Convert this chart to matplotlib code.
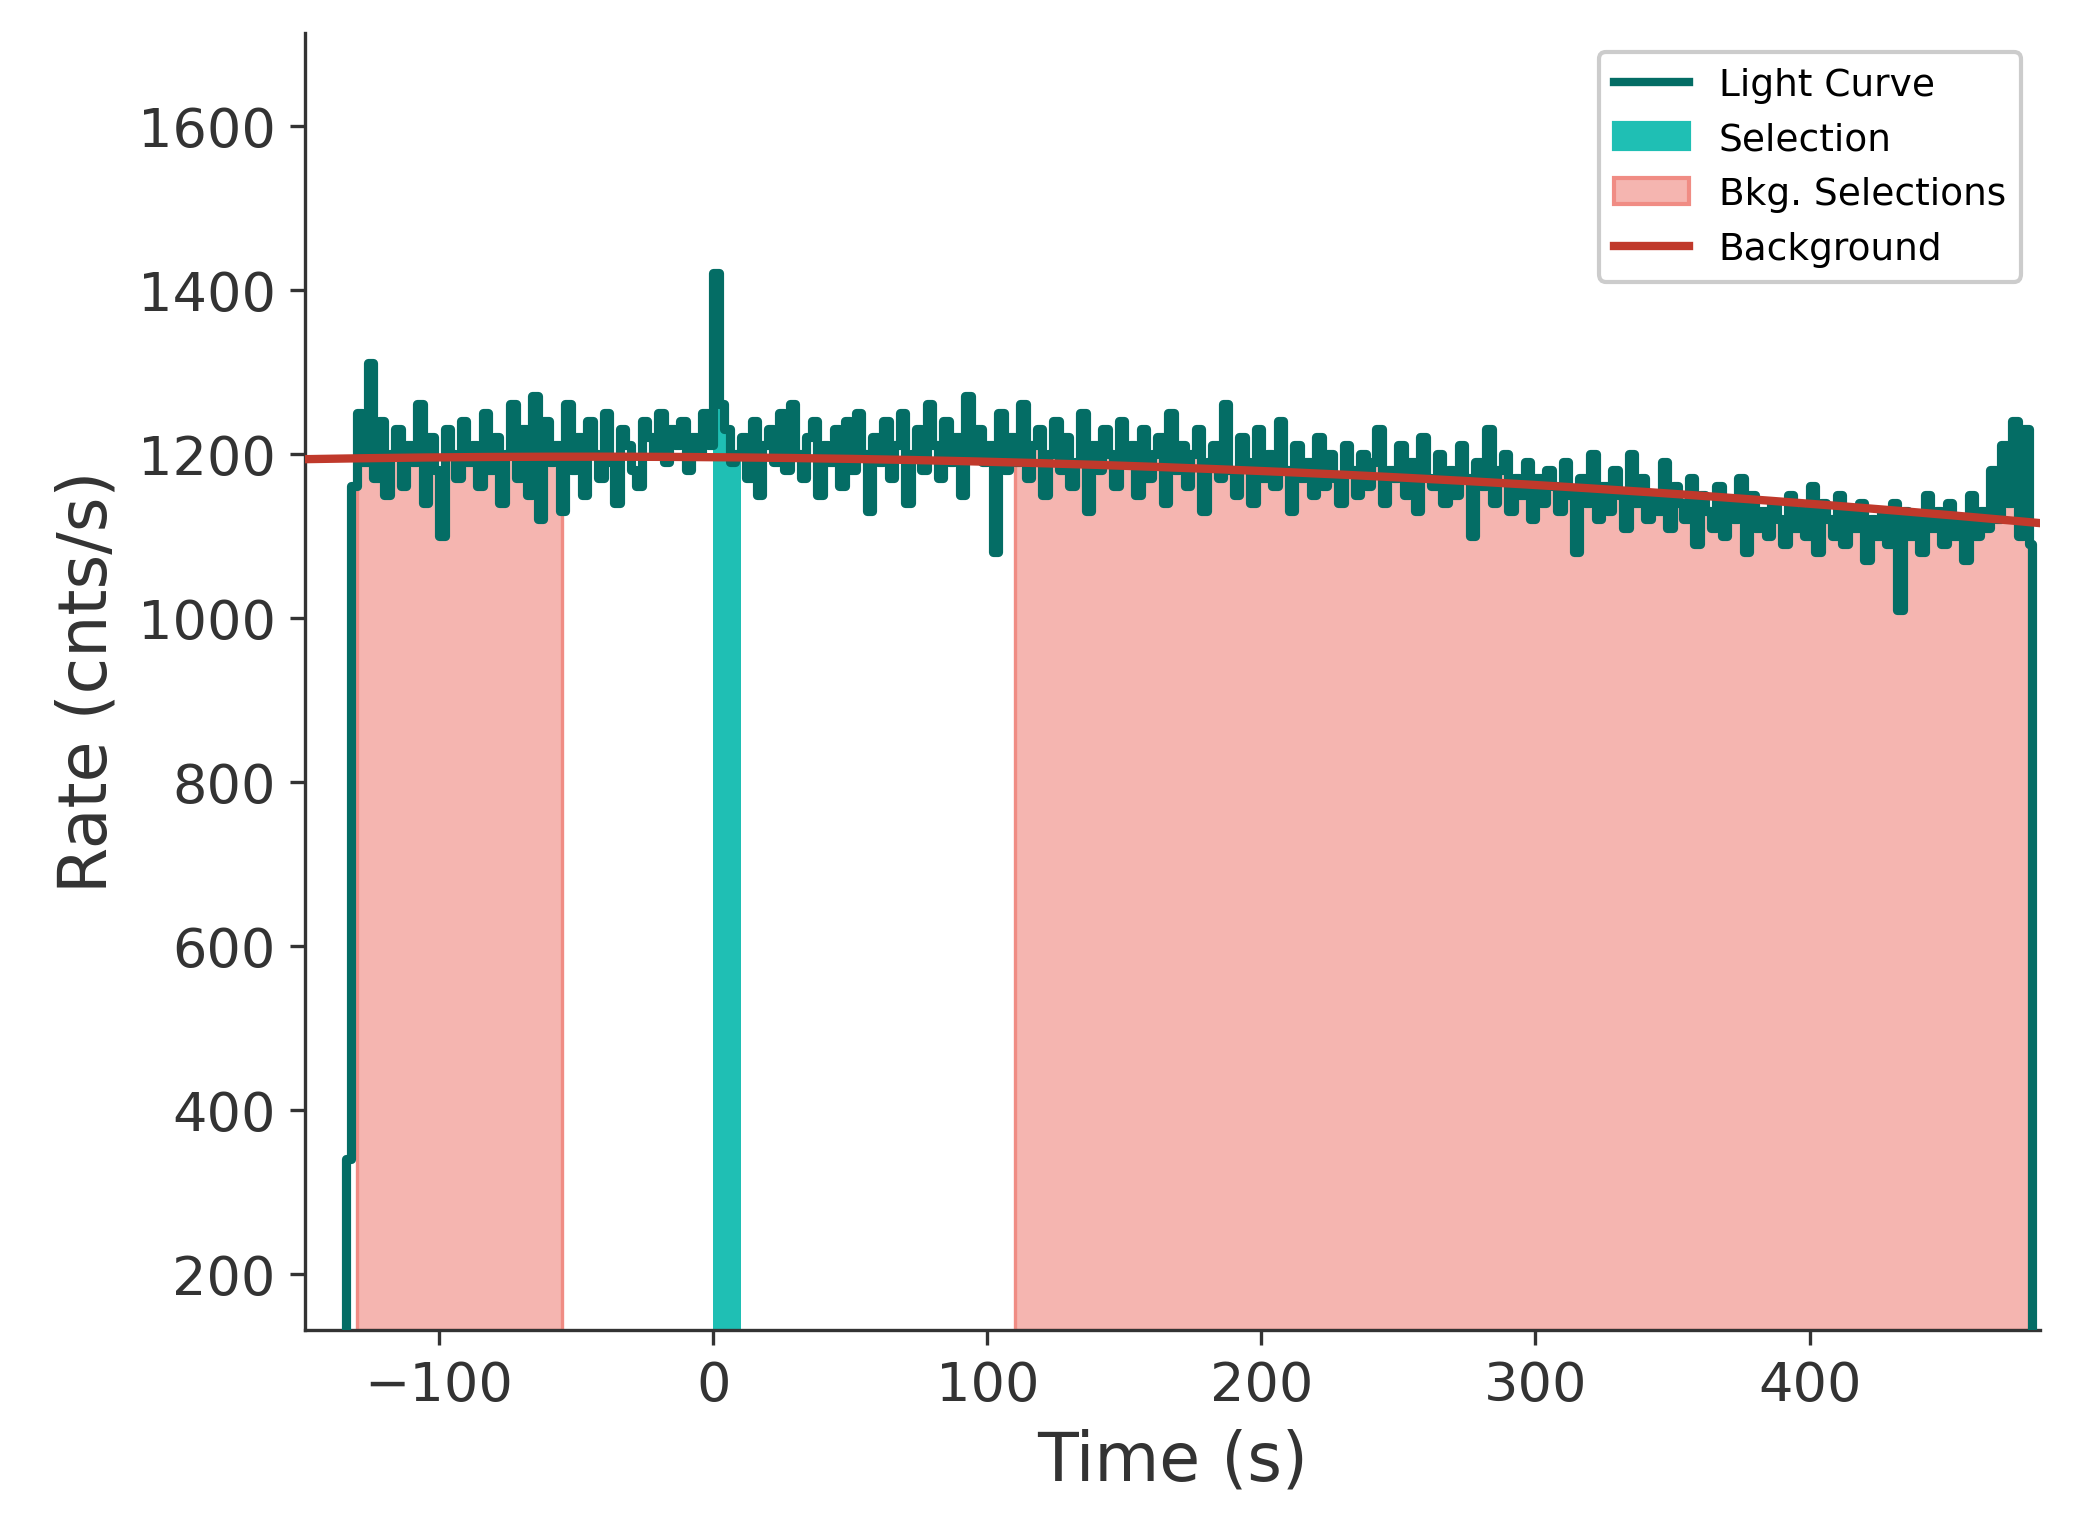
import numpy as np
import matplotlib.pyplot as plt
from matplotlib.patches import Patch
from matplotlib.lines import Line2D

bin_start = -134.0
bin_width = 2.0
rates = [340,
    1160,1250,1190,1310,1170,1240,1150,1200,1230,1160,1210,1190,1260,1140,1220,1180,1100,1230,1200,1170,
    1240,1190,1210,1160,1250,1180,1220,1140,1200,1260,1170,1230,1150,1270,1120,1240,1190,1210,1130,1260,
    1180,1220,1150,1240,1200,1170,1250,1190,1140,1230,1210,1180,1160,1240,1220,1200,1250,1190,1230,1210,
    1240,1180,1220,1200,1250,1210,1420,1260,1230,1190,1200,1220,1170,1240,1150,1210,1230,1190,1250,1180,
    1260,1200,1170,1220,1240,1150,1210,1190,1230,1160,1240,1180,1250,1200,1130,1220,1190,1240,1170,1210,
    1250,1140,1200,1230,1180,1260,1210,1170,1240,1190,1220,1150,1270,1200,1230,1190,1210,1080,1250,1180,
    1220,1190,1260,1170,1210,1230,1150,1200,1240,1180,1220,1160,1190,1250,1130,1210,1180,1230,1200,1160,
    1240,1190,1210,1150,1230,1170,1200,1220,1140,1250,1180,1210,1160,1200,1230,1130,1190,1210,1170,1260,
    1180,1150,1220,1190,1140,1230,1170,1200,1160,1240,1180,1130,1210,1170,1190,1150,1220,1160,1200,1170,
    1140,1210,1180,1150,1200,1160,1190,1230,1140,1180,1170,1210,1150,1190,1130,1220,1170,1160,1200,1140,
    1180,1150,1210,1170,1100,1190,1160,1230,1140,1180,1200,1130,1170,1150,1190,1120,1170,1140,1180,1160,
    1130,1190,1150,1080,1170,1140,1200,1120,1160,1130,1180,1150,1110,1200,1140,1170,1120,1150,1130,1190,
    1110,1160,1140,1120,1170,1090,1150,1130,1110,1160,1100,1140,1120,1170,1080,1150,1110,1130,1100,1140,
    1120,1090,1150,1110,1130,1100,1160,1080,1140,1120,1100,1150,1090,1130,1110,1140,1070,1120,1100,1130,
    1090,1140,1010,1130,1100,1120,1080,1150,1110,1130,1090,1140,1100,1120,1070,1150,1100,1130,1110,1180,
    1120,1210,1140,1240,1100,1230,1090]

selection = (0.0, 10.0)
bkg_selections = [(-130.0, -55.0), (110.0, 480.0)]
bkg_times = [-150, 0, 100, 200, 300, 400, 485]
bkg_rates = [1192, 1198, 1191, 1178, 1160, 1139, 1116]

rates = np.array(rates, dtype=float)
edges = bin_start + bin_width * np.arange(len(rates) + 1)
edges[-1] = 481.0
x = np.concatenate([[edges[0]], edges])
y = np.concatenate([[0], rates, [0]])

fig, ax = plt.subplots(figsize=(6.91, 5.133), dpi=300)
ymin = 132

def fill_range(lo, hi, **kw):
    m = (edges[:-1] >= lo - 1e-9) & (edges[:-1] < hi)
    xs = np.append(edges[:-1][m], min(edges[:-1][m][-1] + bin_width, hi))
    ys = np.append(rates[m], rates[m][-1])
    ax.fill_between(xs, ymin, ys, step='post', **kw)

for lo, hi in bkg_selections:
    fill_range(lo, hi, color='#f5b5b0', edgecolor='#f08c84', lw=0.8, zorder=1)
fill_range(*selection, color='#1fbfb4', lw=0, zorder=2)

ax.step(x, y, where='post', color='#046d65', lw=2.2, zorder=3)

coef = np.polyfit(bkg_times, bkg_rates, 2)
tt = np.linspace(-150, 485, 200)
ax.plot(tt, np.polyval(coef, tt), color='#c0392b', lw=2, zorder=4)

handles = [Line2D([], [], color='#046d65', lw=2),
           Patch(color='#1fbfb4'),
           Patch(facecolor='#f5b5b0', edgecolor='#f08c84'),
           Line2D([], [], color='#c0392b', lw=2)]
ax.legend(handles, ['Light Curve', 'Selection', 'Bkg. Selections', 'Background'],
          loc='upper right', fontsize=9, framealpha=1, edgecolor='#cccccc')

ax.set_xlim(-149, 484)
ax.set_ylim(ymin, 1713)
ax.set_yticks([200, 400, 600, 800, 1000, 1200, 1400, 1600])
ax.set_xlabel('Time (s)', fontsize=16, color='#333333')
ax.set_ylabel('Rate (cnts/s)', fontsize=16, color='#333333')
ax.tick_params(labelsize=13, colors='#333333')
for s in ['top', 'right']:
    ax.spines[s].set_visible(False)
for s in ['left', 'bottom']:
    ax.spines[s].set_color('#333333')
plt.subplots_adjust(left=0.147, right=0.984, top=0.978, bottom=0.136)
fig.savefig('out.png', dpi=300)
